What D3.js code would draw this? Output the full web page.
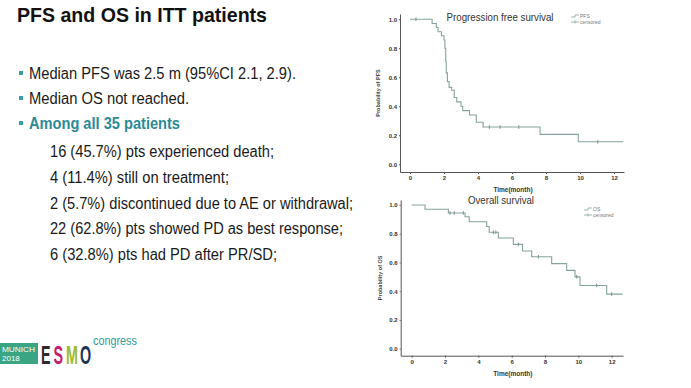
<!DOCTYPE html>
<html>
<head>
<meta charset="utf-8">
<script src="https://cdn.jsdelivr.net/npm/d3@7"></script>
<style>
  body { margin: 0; background: #fff; }
  svg { display: block; font-family: "Liberation Sans", Arial, sans-serif; }
</style>
</head>
<body>
<svg width="691" height="388"></svg>
<script>
// Kaplan-Meier step data (time in months, survival after the drop)
const pfsTimes = [0, 1.3, 1.55, 1.65, 1.85, 2.0, 2.05, 2.1, 2.13, 2.2, 2.3, 2.45, 2.6, 2.75, 3.0, 3.1, 3.5, 3.9, 4.3, 7.65, 9.9, 12.55];
const pfsSurv  = [1.0, 0.971, 0.943, 0.914, 0.886, 0.857, 0.80, 0.71, 0.63, 0.57, 0.53, 0.51, 0.46, 0.43, 0.40, 0.37, 0.34, 0.29, 0.257, 0.206, 0.155, 0.155];
const pfsCensor = [0.35, 4.67, 5.3, 6.4, 11.05];

const osTimes = [0, 0.8, 2.2, 3.2, 3.45, 4.5, 4.65, 5.2, 6.1, 6.65, 7.2, 8.4, 9.3, 9.8, 10.1, 11.7, 12.65];
const osSurv  = [1.0, 0.971, 0.945, 0.918, 0.884, 0.85, 0.81, 0.77, 0.726, 0.68, 0.64, 0.592, 0.545, 0.50, 0.44, 0.38, 0.38];
const osCensor = [2.3, 2.55, 3.1, 4.9, 5.05, 6.4, 7.6, 9.9, 11.1, 12.0];

const xTicks = [0, 2, 4, 6, 8, 10, 12];
const yTicks = [0, 0.2, 0.4, 0.6, 0.8, 1.0];

const slideTitle = "PFS and OS in ITT patients";
const bullets = ["Median PFS was 2.5 m (95%CI 2.1, 2.9).", "Median OS not reached.", "Among all 35 patients"];
const subItems = [
  "16 (45.7%) pts experienced death;",
  "4 (11.4%) still on treatment;",
  "2 (5.7%) discontinued due to AE or withdrawal;",
  "22 (62.8%) pts showed PD as best response;",
  "6 (32.8%) pts had PD after PR/SD;"
];

const svg = d3.select("svg");
const curveColor = "#86a29e";
const axisColor = "#555";
const teal = "#2b8a96";

// ---- left side text ----
svg.append("text")
  .attr("x", 17).attr("y", 22)
  .attr("font-size", 21).attr("font-weight", "bold").attr("fill", "#111")
  .attr("textLength", 250).attr("lengthAdjust", "spacingAndGlyphs")
  .text(slideTitle);

const bulletY = [79, 104, 129];
const bulletW = [267, 160, 151];
bullets.forEach((t, i) => {
  svg.append("rect")
    .attr("x", 19).attr("y", bulletY[i] - 8).attr("width", 4).attr("height", 4)
    .attr("fill", "#3a9ea6");
  svg.append("text")
    .attr("x", 29).attr("y", bulletY[i])
    .attr("font-size", 16)
    .attr("font-weight", i === 2 ? "bold" : "normal")
    .attr("fill", i === 2 ? teal : "#1a1a1a")
    .attr("textLength", bulletW[i]).attr("lengthAdjust", "spacingAndGlyphs")
    .text(t);
});

const subW = [224, 179, 303, 293, 227];
subItems.forEach((t, i) => {
  svg.append("text")
    .attr("x", 50).attr("y", 157 + i * 25.8)
    .attr("font-size", 16).attr("fill", "#1a1a1a")
    .attr("textLength", subW[i]).attr("lengthAdjust", "spacingAndGlyphs")
    .text(t);
});

// ---- ESMO logo ----
const logo = svg.append("g");
logo.append("rect").attr("x", 0).attr("y", 343).attr("width", 38).attr("height", 21).attr("fill", "#3aa583");
logo.append("text").attr("x", 2).attr("y", 352).attr("font-size", 8).attr("fill", "#fff")
  .attr("textLength", 33).attr("lengthAdjust", "spacingAndGlyphs").text("MUNICH");
logo.append("text").attr("x", 2).attr("y", 361).attr("font-size", 8).attr("fill", "#fff").text("2018");
const esmo = [["E", "#2f2a2a", 41], ["S", "#c21a72", 53.5], ["M", "#9cb92a", 66], ["O", "#1c3550", 80]];
esmo.forEach(d => {
  logo.append("text")
    .attr("transform", `translate(${d[2]},364) scale(0.55,1)`)
    .attr("font-size", 26).attr("font-weight", "bold").attr("fill", d[1])
    .text(d[0]);
});
logo.append("text").attr("transform", "translate(93,345) scale(0.9,1)")
  .attr("font-size", 12).attr("fill", "#2f9c9a").text("congress");

// ---- KM panel ----
function stepAt(times, surv, t) {
  let v = surv[0];
  for (let i = 0; i < times.length; i++) if (times[i] <= t) v = surv[i];
  return v;
}

function drawKM(p) {
  const x = d3.scaleLinear().domain(p.xDom).range(p.xRange);
  const y = d3.scaleLinear().domain(p.yDom).range(p.yRange);
  const g = svg.append("g");

  const xa = g.append("g")
    .attr("transform", `translate(0,${p.yRange[0]})`)
    .call(d3.axisBottom(x).tickValues(xTicks).tickSize(2).tickSizeOuter(0).tickPadding(2));
  const ya = g.append("g")
    .attr("transform", `translate(${p.xRange[0]},0)`)
    .call(d3.axisLeft(y).tickValues(yTicks).tickFormat(d3.format(".1f")).tickSize(1).tickSizeOuter(0).tickPadding(2));
  [xa, ya].forEach(a => {
    a.selectAll("path, line").attr("stroke", axisColor);
    a.selectAll("text").attr("font-size", 6).attr("font-weight", "bold").attr("fill", "#333")
      .attr("font-family", "Liberation Sans, Arial, sans-serif");
  });

  const pts = p.times.map((t, i) => [t, p.surv[i]]);
  g.append("path")
    .datum(pts)
    .attr("fill", "none").attr("stroke", curveColor).attr("stroke-width", 1.1)
    .attr("d", d3.line().x(d => x(d[0])).y(d => y(d[1])).curve(d3.curveStepAfter));

  p.censor.forEach(t => {
    const cy = y(stepAt(p.times, p.surv, t));
    g.append("line")
      .attr("x1", x(t)).attr("x2", x(t)).attr("y1", cy - 1.8).attr("y2", cy + 1.8)
      .attr("stroke", "#7a8f8c").attr("stroke-width", 1);
  });

  g.append("text")
    .attr("x", p.titleX).attr("y", p.titleY).attr("text-anchor", "middle")
    .attr("font-size", 11).attr("fill", "#333")
    .attr("textLength", p.titleW).attr("lengthAdjust", "spacingAndGlyphs")
    .text(p.title);

  g.append("text")
    .attr("transform", `translate(${p.yLabX},${(p.yRange[0] + p.yRange[1]) / 2}) rotate(-90)`)
    .attr("text-anchor", "middle").attr("font-size", 5.5).attr("font-weight", "bold").attr("fill", "#444")
    .text(p.yLabel);

  g.append("text")
    .attr("x", (p.xRange[0] + p.xRange[1]) / 2 + 1).attr("y", p.xLabY)
    .attr("text-anchor", "middle").attr("font-size", 6.5).attr("font-weight", "bold").attr("fill", "#333")
    .text("Time(month)");

  // legend
  const lx = p.legX, ly = p.legY;
  g.append("path")
    .attr("d", `M${lx},${ly + 2}H${lx + 4}V${ly}H${lx + 8}`)
    .attr("fill", "none").attr("stroke", curveColor).attr("stroke-width", 0.8);
  g.append("text").attr("x", lx + 9).attr("y", ly + 2.5).attr("font-size", 5).attr("fill", "#777").text(p.legName);
  g.append("path")
    .attr("d", `M${lx},${ly + 7}H${lx + 8}M${lx + 4},${ly + 5.5}V${ly + 8.5}`)
    .attr("fill", "none").attr("stroke", curveColor).attr("stroke-width", 0.8);
  g.append("text").attr("x", lx + 9).attr("y", ly + 9).attr("font-size", 5).attr("fill", "#777").text("censored");
}

drawKM({
  times: pfsTimes, surv: pfsSurv, censor: pfsCensor,
  xDom: [-0.59, 12.59], xRange: [400, 624],
  yDom: [-0.053, 1.036], yRange: [172, 14],
  title: "Progression free survival", titleX: 500, titleY: 21, titleW: 107,
  yLabel: "Probability of PFS", yLabX: 380, xLabY: 192,
  legName: "PFS", legX: 571, legY: 15
});

drawKM({
  times: osTimes, surv: osSurv, censor: osCensor,
  xDom: [-0.66, 12.68], xRange: [400.7, 623],
  yDom: [-0.049, 1.035], yRange: [355.7, 200],
  title: "Overall survival", titleX: 501, titleY: 204, titleW: 66,
  yLabel: "Probability of OS", yLabX: 382, xLabY: 376,
  legName: "OS", legX: 584, legY: 208
});
</script>
</body>
</html>
